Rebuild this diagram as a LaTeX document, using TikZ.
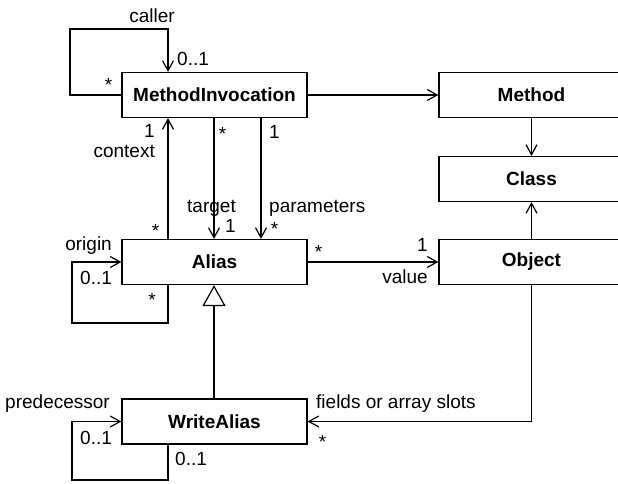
\documentclass[tikz,border=0pt]{standalone}
\usepackage{fontspec}
\setmainfont{Liberation Sans}
\usetikzlibrary{arrows.meta}
\definecolor{umlink}{RGB}{0,0,0}
\definecolor{umlpaper}{RGB}{255,255,255}

\tikzset{
  umlclass/.style={draw=umlink, line width=1.2pt, fill=umlpaper,
    minimum width=185pt, minimum height=45pt, inner sep=0pt,
    font=\fontsize{19}{23}\selectfont\bfseries},
  assoc/.style={draw=umlink, line width=1.2pt,
    -{Straight Barb[length=10pt,width=11pt]}},
  inherit/.style={draw=umlink, line width=1.2pt,
    -{Triangle[open,length=21pt,width=23pt,fill=umlpaper]}},
  lbl/.style={inner sep=0pt, text=umlink, font=\fontsize{19}{23}\selectfont},
}

\begin{document}
\begin{tikzpicture}[x=1pt,y=-1pt]

  % ── CANVAS ─────────────────────────────────────────────────────────────────
  % pixel grid of the page, y runs downwards; right column is cut at the edge
  \fill[umlpaper] (0,0) rectangle (618,483);
  \useasboundingbox (0,0) rectangle (618,483);
  \clip (0,0) rectangle (618,483);

  % ── CLASSES ────────────────────────────────────────────────────────────────
  \node[umlclass] (invoc)   at (214.5,95)    {MethodInvocation};
  \node[umlclass] (alias)   at (214.5,262)   {Alias};
  \node[umlclass] (wralias) at (214.5,421.5) {WriteAlias};
  \node[umlclass] (method)  at (531.5,95)    {Method};
  \node[umlclass] (klass)   at (531.5,179)   {Class};
  \node[umlclass] (object)  at (531.5,262)   {Object};

  % loop corners
  \coordinate (callcorner) at (70,29);
  \coordinate (origcorner) at (72,323);
  \coordinate (predcorner) at (72,480);

  % ── ASSOCIATIONS ───────────────────────────────────────────────────────────
  \draw[assoc] (invoc.east) -- (method.west);
  \draw[assoc] (method.south) -- (klass.north);
  \draw[assoc] (object.north) -- (klass.south);
  \draw[assoc] (alias.east) -- (object.west);

  % caller: self loop over the top
  \draw[assoc] (invoc.west) -| (callcorner) -| ([xshift=-46.5pt]invoc.north);

  % context, target, parameters
  \draw[assoc] ([xshift=-46.5pt]alias.north) -- ([xshift=-46.5pt]invoc.south);
  \draw[assoc] ([xshift=-0.5pt]invoc.south) -- ([xshift=-0.5pt]alias.north);
  \draw[assoc] ([xshift=46.5pt]invoc.south) -- ([xshift=46.5pt]alias.north);

  % origin and predecessor: self loops on the left
  \draw[assoc] ([xshift=-46.5pt]alias.south) |- (origcorner) |- (alias.west);
  \draw[assoc] ([xshift=-46.5pt]wralias.south) |- (predcorner) |- (wralias.west);

  % fields or array slots
  \draw[assoc] (object.south) |- (wralias.east);

  % generalisation
  \draw[inherit] ([xshift=-0.5pt]wralias.north) -- ([xshift=-0.5pt]alias.south);

  % ── ROLE NAMES AND MULTIPLICITIES ──────────────────────────────────────────
  \node[lbl,anchor=base]      (lcaller)   at (152,22)    {caller};
  \node[lbl,anchor=base west] (lcallone)  at (177,65)    {0..1};
  \node[lbl,anchor=base]      (lcallmany) at (108.5,91)  {*};

  \node[lbl,anchor=base]      (lctxone)   at (149.5,137) {1};
  \node[lbl,anchor=base east] (lcontext)  at (155,157)   {context};
  \node[lbl,anchor=base]      (lctxmany)  at (155.5,237) {*};

  \node[lbl,anchor=base]      (ltgtmany)  at (222.5,140) {*};
  \node[lbl,anchor=base]      (ltarget)   at (211.5,212) {target};
  \node[lbl,anchor=base west] (ltgtone)   at (225,232)   {1};

  \node[lbl,anchor=base west] (lparone)   at (269,138)   {1};
  \node[lbl,anchor=base west] (lparams)   at (269,212)   {parameters};
  \node[lbl,anchor=base]      (lparmany)  at (274.5,235) {*};

  \node[lbl,anchor=base]      (lvalmany)  at (318.5,258) {*};
  \node[lbl,anchor=base east] (lvalone)   at (428,251)   {1};
  \node[lbl,anchor=base east] (lvalue)    at (428,283)   {value};

  \node[lbl,anchor=base east] (lorigin)   at (112,250)   {origin};
  \node[lbl,anchor=base west] (lorigone)  at (80,284)    {0..1};
  \node[lbl,anchor=base]      (lorigmany) at (152,306)   {*};

  \node[lbl,anchor=base east] (lpred)     at (110,408)   {predecessor};
  \node[lbl,anchor=base west] (lpredone)  at (80,444)    {0..1};
  \node[lbl,anchor=base west] (lpredtwo)  at (175,465)   {0..1};

  \node[lbl,anchor=base west] (lfields)   at (316,408)   {fields or array slots};
  \node[lbl,anchor=base]      (lfldmany)  at (322.5,448) {*};

\end{tikzpicture}
\end{document}
